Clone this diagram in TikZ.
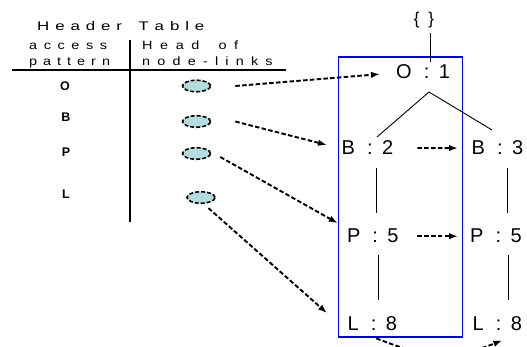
\documentclass[tikz,border=0pt]{standalone}
\usepackage{fontspec}
\setmainfont{Liberation Sans}
\newfontfamily\hdrfont[FakeStretch=1.35]{Liberation Sans}
\newfontfamily\subfont[FakeStretch=1.2]{Liberation Sans}
\usetikzlibrary{arrows.meta,shapes.geometric}
\definecolor{ellfill}{HTML}{B2DCDD}
\makeatletter
\newcommand\spacedtext[2]{\@tfor\sp@c:=#2\do{\sp@c\kern#1}\unkern}
\makeatother
\newcommand\tlab[2]{#1\kern12pt:\kern9.5pt#2}
\begin{document}
\begin{tikzpicture}[x=1pt,y=-1pt,
  hdr/.style={font=\hdrfont\fontsize{12.5}{12.5}\selectfont, inner sep=0pt, anchor=base west},
  sub/.style={font=\subfont\fontsize{12}{12}\selectfont, inner sep=0pt, anchor=base west},
  letter/.style={font=\bfseries\fontsize{12.5}{12.5}\selectfont, inner sep=0pt, anchor=base},
  tree/.style={font=\fontsize{20}{20}\selectfont, inner sep=0pt, anchor=base west},
  headell/.style={ellipse, draw, line width=1.6pt, fill=ellfill, minimum width=28pt, minimum height=11.5pt, inner sep=0pt, dash pattern=on 4pt off 2pt},
  link/.style={line width=1.9pt, dash pattern=on 4.5pt off 2.3pt, -{Latex[length=9pt,width=6.5pt]}},
  treeline/.style={line width=0.9pt}]
\useasboundingbox (0,0) rectangle (527,347);
% header table
\node[hdr] (title) at (37,31) {\spacedtext{5.9pt}{Header~Table}};
\node[sub] (acc) at (29,50) {\spacedtext{6.6pt}{access}};
\node[sub] (pat) at (29,66) {\spacedtext{6pt}{pattern}};
\node[sub] (head) at (142,50) {\spacedtext{7.6pt}{Head~of}};
\node[sub] (nl) at (142,66) {\spacedtext{7.2pt}{node-links}};
\coordinate (hl1) at (12,70); \coordinate (hl2) at (286,70);
\coordinate (vl1) at (130,40); \coordinate (vl2) at (130,222);
\draw[line width=1.1pt] (hl1) -- (hl2);
\draw[line width=1.1pt] (vl1) -- (vl2);
\node[letter] (lO) at (65,91) {O};
\node[letter] (lB) at (66,122) {B};
\node[letter] (lP) at (66,157) {P};
\node[letter] (lL) at (66,199) {L};
\node[headell] (e1) at (196.5,86) {};
\node[headell] (e2) at (196.5,121.5) {};
\node[headell] (e3) at (196.5,153.5) {};
\node[headell] (e4) at (201,197.5) {};
% tree
\draw[blue, line width=1.4pt] (338.5,57) rectangle (462.5,337);
\node[font=\fontsize{17}{17}\selectfont, inner sep=0pt] (root) at (424,20) {\{\kern9pt\}};
\node[tree] (O1) at (396,79) {\tlab{O}{1}};
\node[tree] (B2) at (341.5,155) {\tlab{B}{2}};
\node[tree] (B3) at (471.5,155) {\tlab{B}{3}};
\node[tree] (P5a) at (346.8,243) {\tlab{P}{5}};
\node[tree] (P5b) at (470,243) {\tlab{P}{5}};
\node[tree] (L8a) at (347.5,330) {\tlab{L}{8}};
\node[tree] (L8b) at (472.5,330) {\tlab{L}{8}};
\coordinate (apex) at (429,92);
\coordinate (apexL) at (377,137);
\coordinate (apexR) at (492,130);
\coordinate (rootbot) at (430,33);
\coordinate (o1top) at (430,62);
\draw[treeline] (rootbot) -- (o1top);
\draw[treeline] (apexL) -- (apex) -- (apexR);
\draw[treeline] (376,168) -- (376,213);
\draw[treeline] (507,168) -- (507,213);
\draw[treeline] (378,255) -- (378,300);
\draw[treeline] (508,255) -- (508,300);
% links
\draw[link] ([xshift=24pt]e1.east) -- ([xshift=-16pt,yshift=-2pt]O1.west);
\draw[link] ([xshift=24pt]e2.east) -- ([xshift=-14.5pt,yshift=3pt]B2.west);
\draw[link] ([xshift=9pt,yshift=-3.5pt]e3.east) -- ([xshift=-9pt,yshift=13pt]P5a.west);
\draw[link] ([xshift=-3pt,yshift=-6pt]e4.south east) -- ([xshift=-20.5pt,yshift=10pt]L8a.west);
\draw[link] ([xshift=24pt]B2.east) -- ([xshift=-13.5pt]B3.west);
\draw[link] ([xshift=18.7pt]P5a.east) -- ([xshift=-12pt]P5b.west);
\draw[link] ([xshift=4pt,yshift=-8pt]L8a.south) .. controls (428,359) and (455,359) .. ([xshift=5pt,yshift=-10pt]L8b.south);
\end{tikzpicture}
\end{document}
